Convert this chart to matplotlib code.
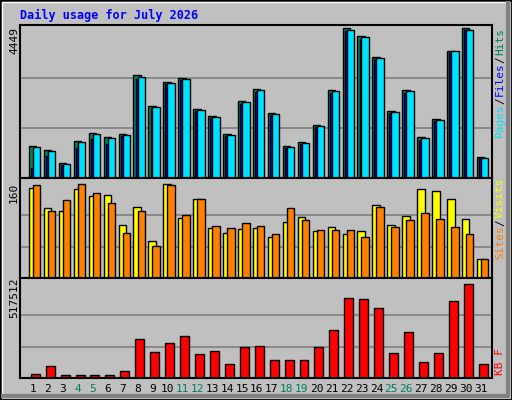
import matplotlib
matplotlib.use("Agg")
import matplotlib.pyplot as plt
from matplotlib.patches import Rectangle

days = list(range(1, 32))
weekend = [4, 5, 11, 12, 18, 19, 25, 26]

hits = [950, 820, 450, 1090, 1340, 1210, 1300, 3060, 2150, 2850, 2970, 2060, 1850, 1300, 2270, 2640,
        1940, 940, 1060, 1575, 2600, 4449, 4210, 3600, 2000, 2600, 1210, 1760, 3780, 4449, 630]
files = [300, 650, 400, 900, 1150, 1000, 1250, 2950, 2080, 2780, 2900, 1990, 1780, 1240, 2200, 2560,
         1870, 880, 1000, 1510, 2530, 4350, 4120, 3520, 1930, 2530, 1140, 1690, 3700, 4380, 580]
pages = [908, 787, 424, 1059, 1302, 1180, 1271, 3000, 2119, 2815, 2936, 2028, 1816, 1271, 2240, 2603,
         1907, 908, 1029, 1544, 2573, 4400, 4177, 3572, 1968, 2573, 1180, 1725, 3753, 4400, 605]
visits = [153, 118, 114, 151, 139, 141, 90, 121, 62, 160, 102, 134, 84, 77, 83, 84,
          70, 95, 104, 79, 86, 74, 79, 123, 90, 105, 151, 148, 134, 100, 32]
sites = [158, 113, 133, 160, 144, 127, 76, 113, 55, 158, 107, 134, 88, 84, 93, 88,
         74, 118, 98, 81, 81, 81, 70, 121, 86, 98, 111, 100, 86, 74, 33]
kbytes = [22500, 67500, 16900, 16900, 16900, 16900, 39400, 213800, 140600, 191300, 230600, 129400,
          146300, 78800, 168800, 174400, 101300, 101300, 101300, 168800, 264400, 438800, 433100,
          382500, 135000, 253100, 90000, 135000, 421900, 517512, 78800]

W, H = 512, 400
bg = "#C0C0C0"
fig = plt.figure(figsize=(W / 100, H / 100), dpi=100, facecolor=bg)

# 3D-ish frame: black outline, white top/left, dark bottom/right
fig.patches.append(Rectangle((0, 0), 1, 1, transform=fig.transFigure, fill=False, ec="black", lw=2))
fig.lines.append(plt.Line2D([2 / W, 2 / W, (W - 3) / W], [3 / H, (H - 2) / H, (H - 2) / H],
                            transform=fig.transFigure, color="white", lw=1))
fig.lines.append(plt.Line2D([3 / W, (W - 4) / W, (W - 4) / W], [4 / H, 4 / H, (H - 3) / H],
                            transform=fig.transFigure, color="#808080", lw=3))

fig.text(20 / W, 1 - 15 / H, "Daily usage for July 2026", color="#0000FF", fontsize=8.5,
         family="DejaVu Sans Mono", weight="bold", va="center")

mono = "DejaVu Sans Mono"
x0, x1 = 20 / W, 492 / W


def panel(top, bottom):
    ax = fig.add_axes([x0, 1 - bottom / H, x1 - x0, (bottom - top) / H])
    ax.set_facecolor(bg)
    ax.set_xlim(0.13, 31.74)
    for s in ax.spines.values():
        s.set_linewidth(1.5)
    ax.set_xticks([])
    ax.set_yticks([])
    return ax


# pages / files / hits
ax1 = panel(25, 178)
ax1.set_ylim(0, 4449 * 1.02)
for g in (4449 / 3, 4449 * 2 / 3):
    ax1.axhline(g, color="#808080", lw=1.2, zorder=0)
ax1.bar([d - 0.27 for d in days], hits, width=0.5, align="edge", color="#00805F", ec="black", lw=1)
ax1.bar([d - 0.13 for d in days], files, width=0.5, align="edge", color="#0000FF", ec="black", lw=1)
ax1.bar([d - 0.0 for d in days], pages, width=0.5, align="edge", color="#00E0FF", ec="black", lw=1)

# visits / sites
ax2 = panel(178, 278)
ax2.set_ylim(0, 160 * 1.06)
for g in (160 / 3, 160 * 2 / 3):
    ax2.axhline(g, color="#808080", lw=1.2, zorder=0)
ax2.bar([d - 0.27 for d in days], visits, width=0.5, align="edge", color="#FFFF00", ec="black", lw=1)
ax2.bar([d - 0.0 for d in days], sites, width=0.5, align="edge", color="#FF8000", ec="black", lw=1)

# kbytes
ax3 = panel(278, 378)
ax3.set_ylim(0, 517512 * 1.06)
for g in (517512 / 3, 517512 * 2 / 3):
    ax3.axhline(g, color="#808080", lw=1.2, zorder=0)
ax3.bar([d - 0.15 for d in days], kbytes, width=0.6, align="edge", color="#FF0000", ec="black", lw=1)

for d in days:
    fig.text((33 + (d - 1) * 14.93) / W, 1 - 389 / H, str(d), ha="center", va="center", fontsize=8,
             family=mono, color="#00805F" if d in weekend else "black")

# left max labels
for ypix, lab in [(40, "4449"), (193, "160"), (298, "517512")]:
    fig.text(14 / W, 1 - ypix / H, lab, rotation=90, ha="center", va="center", fontsize=8, family=mono)


def right_label(parts, ystart):
    y = ystart
    for txt, col in parts:
        fig.text(500 / W, 1 - y / H, txt, rotation=90, ha="center", va="bottom", fontsize=8,
                 family=mono, color=col)
        y -= len(txt) * 6.2 + 2


right_label([("Pages", "#00E0FF"), ("/", "black"), ("Files", "#0000FF"), ("/", "black"),
             ("Hits", "#00805F")], 137)
right_label([("Sites", "#FF8000"), ("/", "black"), ("Visits", "#FFFF00")], 259)
right_label([("KB F", "#FF0000")], 375)

fig.savefig("out.png", dpi=100, facecolor=bg)
